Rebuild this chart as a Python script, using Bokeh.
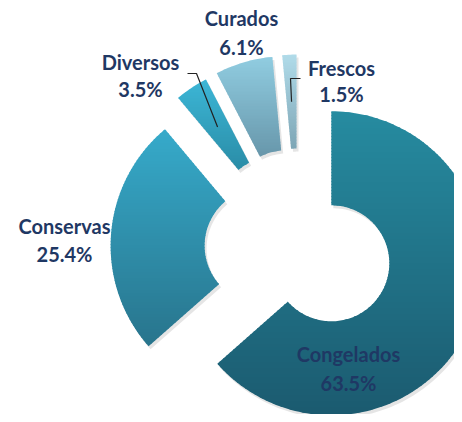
import numpy as np
from bokeh.plotting import figure
from bokeh.models import ColumnDataSource, Range1d
from bokeh.core.properties import value
from bokeh.embed import file_html
from bokeh.resources import INLINE

# ---------------- data ----------------
categories = ["Congelados", "Conservas", "Diversos", "Curados", "Frescos"]
shares = [63.5, 25.4, 3.5, 6.1, 1.5]

# ---------------- style ----------------
top_colors = ["#268BA0", "#36AACA", "#3CB6D6", "#90CCE0", "#B0DBE9"]
bottom_colors = ["#1B5A6F", "#28748C", "#2A8CA6", "#6796AA", "#7DA5B5"]
explode = [36, 36, 41, 42, 42]          # px, per slice
H = 422                                  # image height (y flip)
CX, CY = 298, H - 248                    # pie centre
R_OUT, R_IN = 152, 58
label_x = [348, 64, 140, 241, 341]
label_y_name = [353, 225, 61, 17, 67]
label_y_pct = [382, 253, 88, 46, 93]
# leader lines (label side start, elbow) in image px; end computed on the slice
leaders = {2: [(187, 73), (196, 73)], 4: [(300, 78), (290, 78)]}
LEADER_R = 105
TEXT_COLOR = "#1F3864"
FONT = "Lato"
FONT_SIZE = "20px"
W_FIG, H_FIG = 454, 414

# ---------------- geometry ----------------
def hex2rgb(h):
    h = h.lstrip("#")
    return np.array([int(h[i:i + 2], 16) for i in (0, 2, 4)], dtype=float)

def rgb2hex(c):
    c = np.clip(np.round(c), 0, 255).astype(int)
    return "#%02x%02x%02x" % tuple(c)

def clip_half(pts, keep, cval):
    out = []
    n = len(pts)
    for i in range(n):
        cur = pts[i]
        prev = pts[i - 1]
        kc, kp = keep(cur), keep(prev)
        if kc:
            if not kp:
                t = (cval - prev[1]) / (cur[1] - prev[1])
                out.append((prev[0] + t * (cur[0] - prev[0]), cval))
            out.append(cur)
        elif kp:
            t = (cval - prev[1]) / (cur[1] - prev[1])
            out.append((prev[0] + t * (cur[0] - prev[0]), cval))
    return out

def clip_band(pts, y0, y1):
    p1 = clip_half(pts, lambda p: p[1] >= y0, y0)
    if len(p1) < 3:
        return []
    p2 = clip_half(p1, lambda p: p[1] <= y1, y1)
    return p2 if len(p2) >= 3 else []

total = float(sum(shares))
cum = np.concatenate([[0.0], np.cumsum(shares)]) / total * 2 * np.pi  # clockwise from top

band_xs, band_ys, band_cols = [], [], []
sh_xs, sh_ys = [], []
slice_centres = []
for i, cat in enumerate(categories):
    a0, a1 = cum[i], cum[i + 1]
    mid = 0.5 * (a0 + a1)
    cx = CX + explode[i] * np.sin(mid)
    cy = CY + explode[i] * np.cos(mid)
    slice_centres.append((cx, cy, mid))
    ang = np.linspace(a0, a1, max(8, int((a1 - a0) / (2 * np.pi) * 240)))
    ox = cx + R_OUT * np.sin(ang)
    oy = cy + R_OUT * np.cos(ang)
    ix = cx + R_IN * np.sin(ang[::-1])
    iy = cy + R_IN * np.cos(ang[::-1])
    pts = list(zip(np.concatenate([ox, ix]), np.concatenate([oy, iy])))
    sh_xs.append([p[0] + 2 for p in pts])
    sh_ys.append([p[1] - 3 for p in pts])
    ymin = min(p[1] for p in pts)
    ymax = max(p[1] for p in pts)
    ctop, cbot = hex2rgb(top_colors[i]), hex2rgb(bottom_colors[i])
    step = 3.0
    y = ymin
    while y < ymax:
        y1 = min(y + step, ymax)
        poly = clip_band(pts, y - 0.7, y1)
        if poly:
            f = (ymax - 0.5 * (y + y1)) / (ymax - ymin)
            band_xs.append([p[0] for p in poly])
            band_ys.append([p[1] for p in poly])
            band_cols.append(rgb2hex(ctop + (cbot - ctop) * f))
        y = y1

p = figure(width=W_FIG, height=H_FIG, output_backend="svg", toolbar_location=None,
           x_range=Range1d(0, W_FIG), y_range=Range1d(H - H_FIG, H),
           min_border=0, outline_line_color=None)
p.axis.visible = False
p.grid.visible = False
p.background_fill_color = "white"
p.border_fill_color = "white"

p.patches(sh_xs, sh_ys, fill_color="#000000", fill_alpha=0.10, line_color=None)
p.patches("xs", "ys", fill_color="c", line_color=None,
          source=ColumnDataSource(dict(xs=band_xs, ys=band_ys, c=band_cols)))

# leader lines
for i, seg in leaders.items():
    cx, cy, mid = slice_centres[i]
    ex = cx + LEADER_R * np.sin(mid)
    ey = cy + LEADER_R * np.cos(mid)
    xs = [seg[0][0], seg[1][0], ex]
    ys = [H - seg[0][1], H - seg[1][1], ey]
    p.line(xs, ys, line_color="#222222", line_width=1.2)

names = ColumnDataSource(dict(x=label_x, y=[H - v for v in label_y_name], t=categories))
pcts = ColumnDataSource(dict(x=label_x, y=[H - v for v in label_y_pct],
                             t=["%.1f%%" % s for s in shares]))
for src in (names, pcts):
    p.text("x", "y", text="t", source=src, text_align="center", text_baseline="middle",
           text_font=value(FONT), text_font_style="bold", text_font_size=FONT_SIZE,
           text_color=TEXT_COLOR)

open("out.html", "w").write(file_html(p, INLINE))
